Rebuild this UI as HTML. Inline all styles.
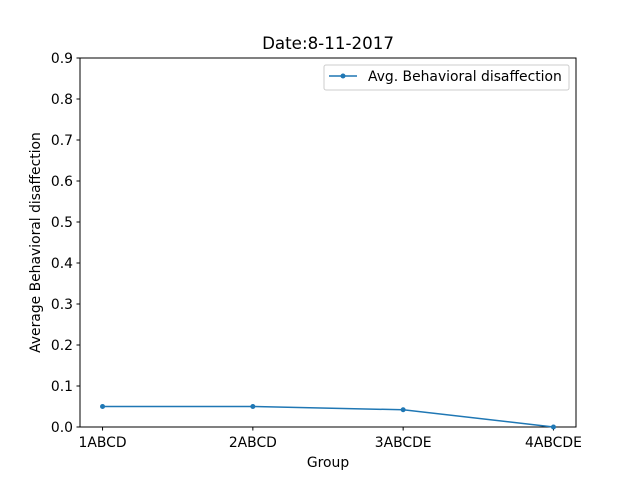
<!DOCTYPE html>
<html><head><meta charset="utf-8"><style>
body{margin:0;background:#fff}
svg{display:block;font-family:"DejaVu Sans","Liberation Sans",sans-serif}
</style></head><body>
<svg id="chart" width="640" height="480">
<rect width="640" height="480" fill="#fff"/>
<text x="328" y="49" font-size="16.7" text-anchor="middle">Date:8-11-2017</text>
<rect x="80" y="58" width="496" height="369" fill="none" stroke="#000" stroke-width="1"/>
<text x="328" y="467" font-size="13.9" text-anchor="middle">Group</text>
<text transform="translate(40,242.5) rotate(-90)" font-size="13.9" text-anchor="middle">Average Behavioral disaffection</text>
<g>
<rect x="324" y="65" width="245" height="25" rx="2" fill="#fff" stroke="#ccc"/>
<line x1="329" y1="76" x2="357" y2="76" stroke="#1f77b4" stroke-width="1.5"/>
<circle cx="343" cy="76" r="2.5" fill="#1f77b4"/>
<text x="368" y="81" font-size="13.9">Avg. Behavioral disaffection</text>
</g>
</svg>
<script>
const categories=["1ABCD","2ABCD","3ABCDE","4ABCDE"];
const values=[0.05,0.05,0.042,0.0];
const yTicks=[0,0.1,0.2,0.3,0.4,0.5,0.6,0.7,0.8,0.9];
const NS="http://www.w3.org/2000/svg";
const svg=document.getElementById('chart');
const L=80,R=576,T=58,B=427;
const xs=i=>L+(i+0.15)/3.3*(R-L);
const ys=v=>B-v/0.9*(B-T);
function mk(t,a,p){const e=document.createElementNS(NS,t);for(const k in a)e.setAttribute(k,a[k]);(p||svg).appendChild(e);return e;}
yTicks.forEach(v=>{
 const y=ys(v);
 const l=mk('line',{x1:L-3.5,x2:L,y1:y,y2:y,stroke:'#000'});
 
 
 const t=mk('text',{x:L-7,y:y+5,'font-size':13.9,'text-anchor':'end'});
 t.textContent=v.toFixed(1);
 
 
});
categories.forEach((c,i)=>{
 const x=xs(i);
 const l=mk('line',{x1:x,x2:x,y1:B,y2:B+3.5,stroke:'#000'});
 
 
 const t=mk('text',{x:x,y:B+20,'font-size':13.9,'text-anchor':'middle'});
 t.textContent=c;
 
 
});
const pts=values.map((v,i)=>xs(i)+','+ys(v)).join(' ');
const pl=mk('polyline',{points:pts,fill:'none',stroke:'#1f77b4','stroke-width':1.5});


values.forEach((v,i)=>{
 const c=mk('circle',{cx:xs(i),cy:ys(v),r:2.5,fill:'#1f77b4'});
 
 
});
</script>
</body></html>
